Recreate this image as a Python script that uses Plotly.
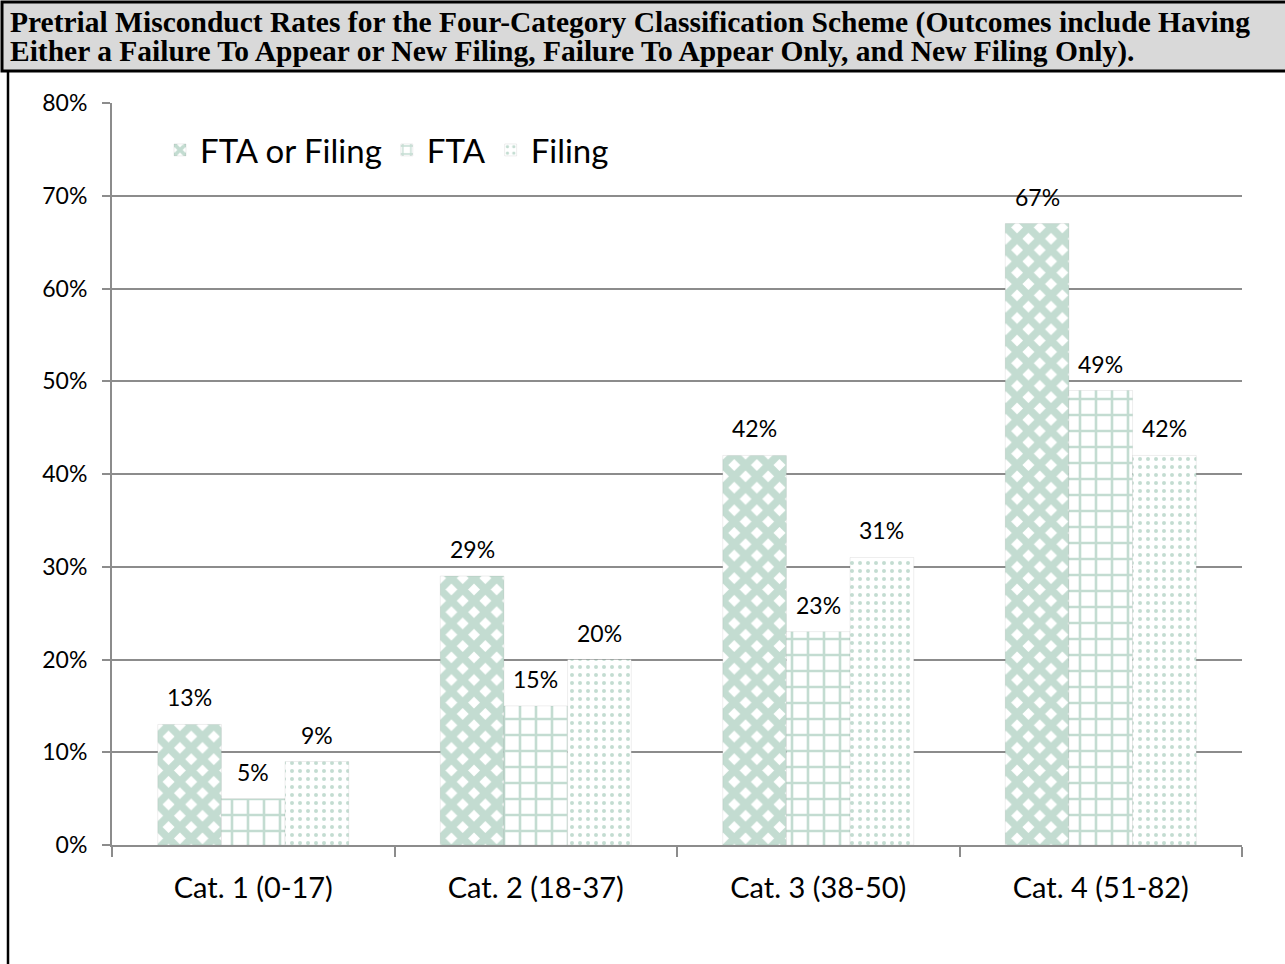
import plotly.graph_objects as go

categories = ["Cat. 1 (0-17)", "Cat. 2 (18-37)", "Cat. 3 (38-50)", "Cat. 4 (51-82)"]
series_names = ["FTA or Filing", "FTA", "Filing"]
fta_or_filing = [0.13, 0.29, 0.42, 0.67]
fta = [0.05, 0.15, 0.23, 0.49]
filing = [0.09, 0.20, 0.31, 0.42]
series_values = [fta_or_filing, fta, filing]
title_lines = [
    "Pretrial Misconduct Rates for the Four-Category Classification Scheme (Outcomes include Having",
    "Either a Failure To Appear or New Filing, Failure To Appear Only, and New Filing Only).",
]

W, H = 1285, 964
L, R, T, B = 112, 1242, 103, 845
GREEN = "#88b9a3"
GRID = "#8c8c8c"
BARGAP = 0.324

def px_x(x):
    return (x - L) / (R - L)

def px_y(y):
    return (B - y) / (B - T)

patterns = [
    dict(shape="x", size=16, solidity=0.72, fgcolor=GREEN, bgcolor="white"),
    dict(shape="+", size=16, solidity=0.3, fgcolor=GREEN, bgcolor="white"),
    dict(shape=".", size=8, solidity=0.2, fgcolor=GREEN, bgcolor="white"),
]

fig = go.Figure()
for name, vals, pat in zip(series_names, series_values, patterns):
    fig.add_trace(go.Bar(
        name=name, x=categories, y=vals,
        marker=dict(color="white", pattern=pat,
                    line=dict(color="rgba(0,0,0,0.07)", width=1)),
    ))

annotations = []
bw = (1 - BARGAP) / 3
for j, vals in enumerate(series_values):
    for i, v in enumerate(vals):
        annotations.append(dict(
            x=i + (j - 1) * bw, y=v, xref="x", yref="y",
            text=f"{round(v*100)}%", showarrow=False,
            yanchor="middle", yshift=27,
            font=dict(family="Lato", size=23, color="black"),
        ))

# title text
for k, line in enumerate(title_lines):
    annotations.append(dict(
        x=px_x(8), y=px_y(22 + 30 * k), xref="paper", yref="paper",
        xanchor="left", yanchor="middle", text=line, showarrow=False,
        font=dict(family="Liberation Serif", size=29.5, color="black", weight="bold"),
    ))

shapes = [
    dict(type="rect", xref="paper", yref="paper",
         x0=px_x(2), x1=px_x(1288), y0=px_y(2), y1=px_y(71),
         fillcolor="#d9d9d9", line=dict(color="black", width=3), layer="below"),
    dict(type="line", xref="paper", yref="paper",
         x0=px_x(8), x1=px_x(8), y0=px_y(71), y1=px_y(966),
         line=dict(color="black", width=2.5)),
]

fig.update_layout(
    width=W, height=H,
    margin=dict(l=L, r=W - R, t=T, b=H - B, pad=0),
    paper_bgcolor="white", plot_bgcolor="white",
    barmode="group", bargap=BARGAP, bargroupgap=0,
    font=dict(family="Lato", color="black"),
    showlegend=True,
    legend=dict(orientation="h", x=px_x(160), y=px_y(122), xanchor="left", yanchor="top",
                bgcolor="rgba(0,0,0,0)", font=dict(family="Lato", size=33, color="black")),
    annotations=annotations, shapes=shapes,
    xaxis=dict(showline=True, linecolor=GRID, linewidth=2, ticks="outside",
               tickson="boundaries", ticklen=10, tickcolor=GRID, tickwidth=2,
               tickfont=dict(family="Lato", size=29, color="black"),
               ticklabelstandoff=16, showgrid=False),
    yaxis=dict(range=[0, 0.8], dtick=0.1, tickformat=".0%", showline=True,
               linecolor=GRID, linewidth=2, ticks="outside", ticklen=8,
               tickcolor=GRID, tickwidth=2, showgrid=True, gridcolor=GRID,
               gridwidth=2, zeroline=False,
               tickfont=dict(family="Lato", size=23, color="black"),
               ticklabelstandoff=10),
)

fig.write_html("out.html", config={"displayModeBar": False},
               post_script="document.body.style.margin='0';")
